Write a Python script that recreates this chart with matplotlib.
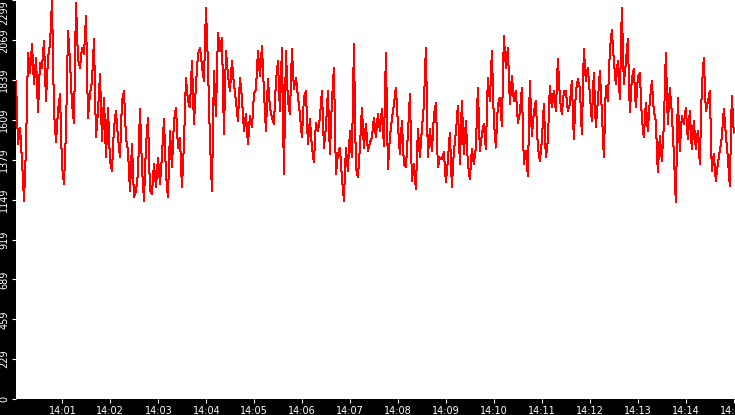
import numpy as np
import pandas as pd
import matplotlib
matplotlib.use("Agg")
import matplotlib.pyplot as plt
import matplotlib.dates as mdates

# samples every 2.5 s starting 14:00:02 in six chunks
vals_a = [1834, 1470, 1566, 1374, 1144, 1450, 1997, 1882, 2045, 1815,
          1968, 1652, 1940, 1911, 2064, 1719, 1968, 2045, 2294, 1661,
          1479, 1661, 1757, 1345, 1240, 1546, 2122, 1949, 1700, 1594,
          2284, 1959, 1911, 2026, 1987, 2208, 1623, 1757, 1834, 2074,
          1508, 1661, 1872, 1489, 1738, 1393, 1681, 1374, 1316, 1566,
          1661, 1508, 1393, 1719, 1776, 1508, 1431, 1201, 1470, 1163]
vals_b = [1201, 1297, 1671, 1336, 1144, 1460, 1623, 1201, 1182, 1355,
          1221, 1393, 1240, 1403, 1613, 1297, 1163, 1546, 1336, 1604,
          1681, 1450, 1508, 1221, 1470, 1853, 1719, 1681, 1949, 1585,
          1815, 1987, 2026, 1920, 1834, 2256, 1930, 1489, 1201, 1891,
          1633, 2112, 2006, 2083, 1527, 2006, 1872, 1776, 1949, 1815,
          1719, 1604, 1853, 1738, 1546, 1642, 1470, 1633, 1566, 1757]
vals_c = [1786, 2006, 1863, 2035, 1776, 1546, 1844, 1681, 1623, 1585,
          1834, 1949, 1661, 2026, 1297, 2006, 1719, 1642, 2016, 1786,
          1853, 1748, 1642, 1508, 1738, 1776, 1470, 1613, 1450, 1364,
          1594, 1546, 1623, 1776, 1450, 1566, 1776, 1412, 1719, 1911,
          1297, 1412, 1450, 1278, 1144, 1450, 1316, 1546, 1393, 2045,
          1336, 1278, 1450, 1681, 1450, 1585, 1431, 1479, 1508, 1623]
vals_d = [1508, 1642, 1546, 1671, 1460, 1997, 1326, 1508, 1613, 1700,
          1796, 1585, 1412, 1604, 1355, 1336, 1527, 1757, 1259, 1355,
          1211, 1556, 1393, 1556, 1700, 2026, 1393, 1556, 1431, 1633,
          1709, 1336, 1393, 1384, 1422, 1250, 1374, 1537, 1221, 1431,
          1537, 1690, 1355, 1719, 1412, 1604, 1355, 1268, 1441, 1355,
          1450, 1796, 1431, 1527, 1585, 1441, 1853, 1719, 2006, 1604]
vals_e = [1450, 1700, 1738, 1575, 2093, 1911, 2026, 1700, 1863, 1719,
          1776, 1594, 1652, 1796, 1355, 1431, 1288, 1834, 1518, 1652,
          1719, 1450, 1374, 1489, 1700, 1393, 1489, 1805, 1681, 1776,
          1661, 1959, 1738, 1642, 1776, 1776, 1661, 1700, 1834, 1498,
          1776, 1843, 1796, 1527, 2016, 1834, 1911, 1757, 1604, 1882,
          1566, 1719, 1891, 1661, 1393, 1805, 1719, 2006, 2131, 1949]
vals_f = [1815, 1949, 1729, 2256, 1815, 1940, 2074, 1652, 1844, 1901,
          1681, 1853, 1882, 1623, 1508, 1709, 1546, 1719, 1834, 1661,
          1604, 1307, 1518, 1374, 1575, 1997, 1585, 1796, 1652, 1422,
          1134, 1738, 1431, 1633, 1585, 1681, 1499, 1661, 1441, 1604,
          1441, 1546, 1355, 1796, 1968, 1661, 1709, 1776, 1316, 1412,
          1259, 1355, 1431, 1508, 1671, 1527, 1393, 1230, 1748, 1537]

values = np.array(vals_a + vals_b + vals_c + vals_d + vals_e + vals_f, dtype=float)
times = pd.date_range("2024-01-01 14:00:02", periods=len(values), freq="2500ms")

y_ticks = [0, 229.9, 459.8, 689.7, 919.6, 1149.5, 1379.4, 1609.3, 1839.2, 2069.1, 2299]
y_labels = ["0", "229", "459", "689", "919", "1149", "1379", "1609", "1839", "2069", "2299"]

fig = plt.figure(figsize=(7.35, 4.15), dpi=100, facecolor="black")
ax = fig.add_axes([16 / 735, 16 / 415, 719 / 735, 399 / 415])
ax.set_facecolor("white")

ax.plot(times, values, color="#ff0000", lw=0.72, antialiased=False)

ax.set_ylim(0, 2301)
ax.set_xlim(pd.Timestamp("2024-01-01 14:00:02"), pd.Timestamp("2024-01-01 14:15:01"))

ax.set_yticks(y_ticks)
ax.set_yticklabels(y_labels)
ax.xaxis.set_major_locator(mdates.MinuteLocator())
ax.xaxis.set_major_formatter(mdates.DateFormatter("%H:%M"))

ax.tick_params(axis="both", colors="white", labelcolor="white", labelsize=7,
               length=3, width=0.8, direction="out")
ax.tick_params(axis="y", pad=1.8)
ax.tick_params(axis="x", pad=1.8)
for lab in ax.get_yticklabels():
    lab.set_rotation(90)
    lab.set_va("center")
ax.get_yticklabels()[-1].set_va("top")

for s in ax.spines.values():
    s.set_visible(False)

fig.savefig("out.png", dpi=100, facecolor="black")
